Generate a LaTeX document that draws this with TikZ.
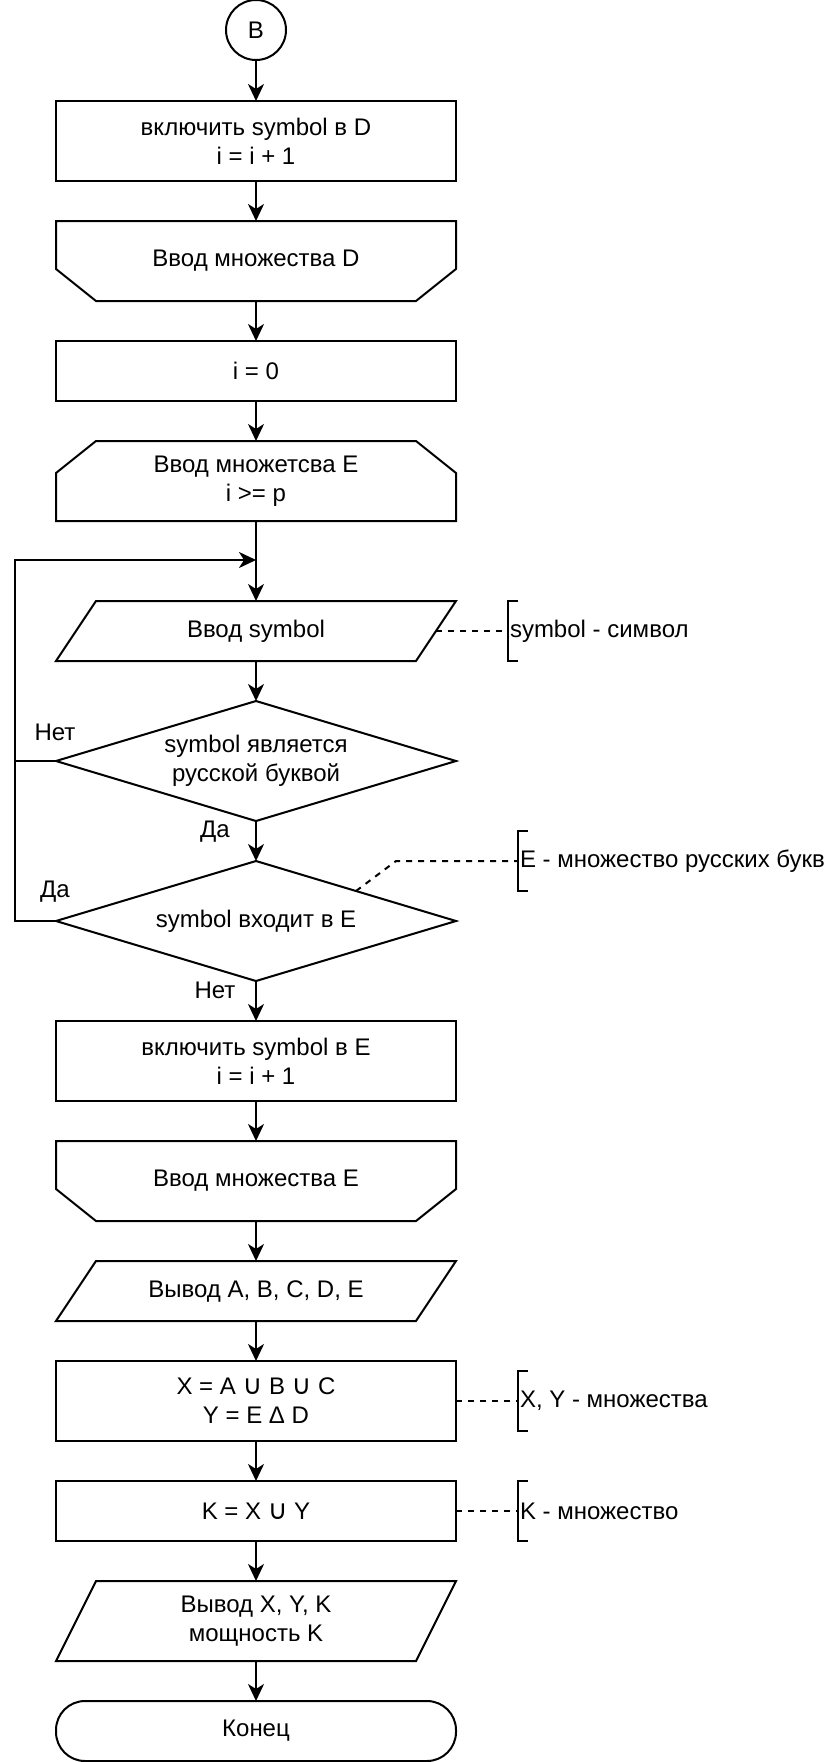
\documentclass[tikz,border=0pt]{standalone}
\usepackage{fontspec}
\setmainfont{Liberation Sans}
\newfontfamily\dvfont{DejaVu Sans}
\usetikzlibrary{shapes.geometric,arrows.meta,calc}
\newcommand{\un}{{\dvfont\fontsize{27}{29}\selectfont ∪}}
\begin{document}
\begin{tikzpicture}[x=1pt,y=-1pt,
  every node/.style={font=\fontsize{24}{29}\selectfont, align=center, inner sep=0pt, outer sep=0pt},
  shp/.style={draw, line width=2pt},
  blk/.style={minimum width=400pt, minimum height=#1},
  rbox/.style={shp, blk=#1},
  dec/.style={shape=diamond, draw, line width=2pt, minimum width=400pt, minimum height=120pt, aspect=3.35},
  flow/.style={line width=2pt, -{Stealth[length=17pt,width=16pt,inset=5pt]}},
  ln/.style={line width=2pt},
  dsh/.style={line width=2pt, dash pattern=on 6pt off 6pt},
  note/.style={anchor=west},
  brk/.style={line width=2pt}
]
\useasboundingbox (0,0) rectangle (824,1762);

% nodes
\node[shp, circle, minimum size=60pt] (b) at (256,30) {B};
\node[rbox=80pt] (r1) at (256,141) {включить symbol в D\\i = i + 1};
\node[blk=80pt] (lpD) at (256,261) {Ввод множества D};
\draw[shp] (lpD.north west) -- (lpD.north east) -- ($(lpD.south east)+(0,-32)$) -- ($(lpD.south east)+(-40,0)$) -- ($(lpD.south west)+(40,0)$) -- ($(lpD.south west)+(0,-32)$) -- cycle;
\node[rbox=60pt] (r0) at (256,371) {i = 0};
\node[blk=80pt] (hE) at (256,481) {Ввод множетсва E\\i >= p};
\draw[shp] ($(hE.north west)+(40,0)$) -- ($(hE.north east)+(-40,0)$) -- ($(hE.north east)+(0,32)$) -- (hE.south east) -- (hE.south west) -- ($(hE.north west)+(0,32)$) -- cycle;
\coordinate (jn) at (256,560);
\coordinate (lc) at (15,560);
\node[blk=60pt] (ps) at (256,631) {Ввод symbol};
\draw[shp] ($(ps.north west)+(40,0)$) -- (ps.north east) -- ($(ps.south east)+(-40,0)$) -- (ps.south west) -- cycle;
\node[dec] (d1) at (256,761) {symbol является\\русской буквой};
\node[dec] (d2) at (256,921) {symbol входит в E};
\node[rbox=80pt] (rE) at (256,1061) {включить symbol в E\\i = i + 1};
\node[blk=80pt] (lpE) at (256,1181) {Ввод множества E};
\draw[shp] (lpE.north west) -- (lpE.north east) -- ($(lpE.south east)+(0,-32)$) -- ($(lpE.south east)+(-40,0)$) -- ($(lpE.south west)+(40,0)$) -- ($(lpE.south west)+(0,-32)$) -- cycle;
\node[blk=60pt] (po1) at (256,1291) {Вывод A, B, C, D, E};
\draw[shp] ($(po1.north west)+(40,0)$) -- (po1.north east) -- ($(po1.south east)+(-40,0)$) -- (po1.south west) -- cycle;
\node[rbox=80pt] (rXY) at (256,1401) {X = A \un{} B \un{} C\\Y = E Δ D};
\node[rbox=60pt] (rK) at (256,1511) {K = X \un{} Y};
\node[blk=80pt] (po2) at (256,1621) {Вывод X, Y, K\\мощность K};
\draw[shp] ($(po2.north west)+(40,0)$) -- (po2.north east) -- ($(po2.south east)+(-40,0)$) -- (po2.south west) -- cycle;
\node[shp, rounded corners=29pt, minimum width=400pt, minimum height=60pt] (fin) at (256,1731) {Конец};

% connectors
\draw[flow] (b.south) -- (r1.north);
\draw[flow] (r1.south) -- (lpD.north);
\draw[flow] (lpD.south) -- (r0.north);
\draw[flow] (r0.south) -- (hE.north);
\draw[flow] (hE.south) -- (ps.north);
\draw[flow] (d2.west) -- (d2.west -| lc) -- (lc) -- (jn);
\draw[ln] (d1.west) -- (d1.west -| lc);
\draw[flow] (ps.south) -- (d1.north);
\draw[flow] (d1.south) -- (d2.north);
\draw[flow] (d2.south) -- (rE.north);
\draw[flow] (rE.south) -- (lpE.north);
\draw[flow] (lpE.south) -- (po1.north);
\draw[flow] (po1.south) -- (rXY.north);
\draw[flow] (rXY.south) -- (rK.north);
\draw[flow] (rK.south) -- (po2.north);
\draw[flow] (po2.south) -- (fin.north);

% branch labels
\node (l1) at (55,732) {Нет};
\node (l2) at (215,832) {Да};
\node (l3) at (55,892) {Да};
\node (l4) at (215,990) {Нет};

% annotations
\coordinate (bs) at (508,631);
\draw[brk] ($(bs)+(10,-30)$) -- ++(-10,0) -- ++(0,60) -- ++(10,0);
\draw[dsh] ($(ps.east)+(-20,0)$) -- (bs);
\node[note] (ts) at (510,631) {symbol - символ};

\coordinate (be) at (518,861);
\coordinate (ek) at (396,861);
\draw[brk] ($(be)+(10,-30)$) -- ++(-10,0) -- ++(0,60) -- ++(10,0);
\draw[dsh] (d2.north east) -- (ek) -- (be);
\node[note] (te) at (520,861) {E - множество русских букв};

\coordinate (bxy) at (518,1401);
\draw[brk] ($(bxy)+(10,-30)$) -- ++(-10,0) -- ++(0,60) -- ++(10,0);
\draw[dsh] (rXY.east) -- (bxy);
\node[note] (txy) at (520,1401) {X, Y - множества};

\coordinate (bk) at (518,1511);
\draw[brk] ($(bk)+(10,-30)$) -- ++(-10,0) -- ++(0,60) -- ++(10,0);
\draw[dsh] (rK.east) -- (bk);
\node[note] (tk) at (520,1511) {K - множество};
\end{tikzpicture}
\end{document}
